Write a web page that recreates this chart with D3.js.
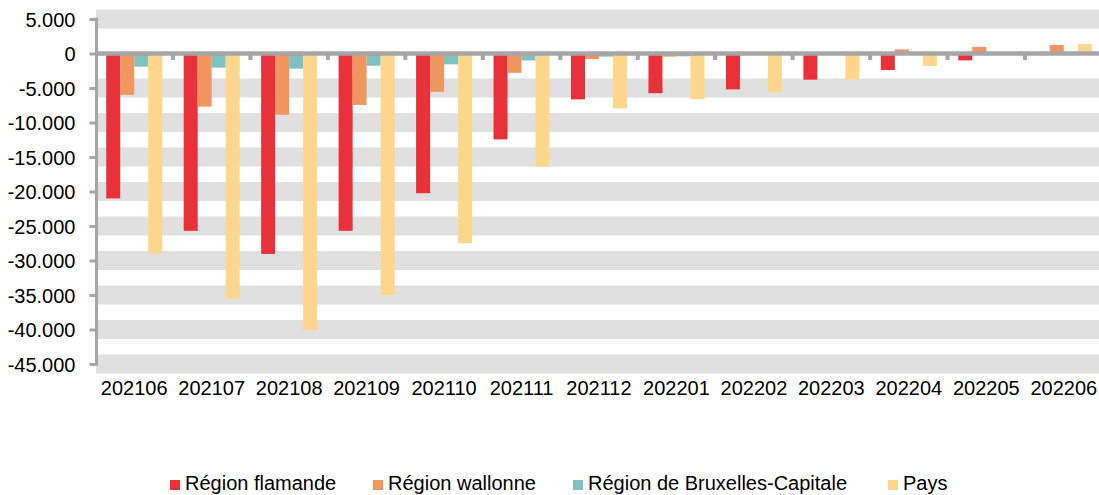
<!DOCTYPE html>
<html>
<head>
<meta charset="utf-8">
<script src="https://cdn.jsdelivr.net/npm/d3@7"></script>
<style>
  html, body { margin: 0; padding: 0; background: #fff; }
  svg { display: block; font-family: "Liberation Sans", Arial, sans-serif; }
</style>
</head>
<body>
<svg id="chart" width="1099" height="495"></svg>
<script>
const categories = ["202106","202107","202108","202109","202110","202111","202112","202201","202202","202203","202204","202205","202206"];
const seriesNames = ["Région flamande","Région wallonne","Région de Bruxelles-Capitale","Pays"];
const seriesColors = ["#E9313A","#F1965F","#7FC0C0","#FED68C"];
const flamande  = [-21000,-25700,-29050,-25700,-20250,-12450,-6650,-5750,-5200,-3800,-2400,-1000,150];
const wallonne  = [-6000,-7700,-8870,-7450,-5550,-2800,-800,-450,-200,-100,600,950,1230];
const bruxelles = [-1900,-2050,-2200,-1770,-1570,-1000,-450,-400,-200,-100,0,0,0];
const pays      = [-29000,-35500,-40100,-35000,-27500,-16400,-7950,-6600,-5600,-3750,-1800,-50,1380];
const yTicks = [5000,0,-5000,-10000,-15000,-20000,-25000,-30000,-35000,-40000,-45000];

const seriesValues = [flamande, wallonne, bruxelles, pays];
const svg = d3.select("#chart");
const W = 1099;

const locale = d3.formatLocale({decimal: ",", thousands: ".", grouping: [3], currency: ["", "€"], minus: "-"});
const fmt = locale.format(",.0f");

const x0 = d3.scaleBand().domain(categories).range([95.5, 1102.5]).paddingInner(0.277).paddingOuter(0.1385);
const x1 = d3.scaleBand().domain(seriesNames).range([0, x0.bandwidth()]).padding(0);
const y = d3.scaleLinear().domain([-45000, 5000]).range([364, 19]);

// bands (thick gridlines)
svg.append("g").selectAll("rect").data(yTicks.filter(t => t !== 0)).join("rect")
  .attr("x", 96).attr("width", W - 96)
  .attr("y", d => y(d) - 9.5).attr("height", 19)
  .attr("fill", "#E0E0E0");

// bars
const groups = svg.append("g").selectAll("g").data(categories).join("g")
  .attr("transform", d => `translate(${x0(d)},0)`);
groups.selectAll("rect").data((c, i) => seriesNames.map((s, j) => ({s, j, v: seriesValues[j][i]}))).join("rect")
  .attr("x", d => x1(d.s)).attr("width", x1.bandwidth())
  .attr("y", d => y(Math.max(0, d.v)))
  .attr("height", d => Math.abs(y(d.v) - y(0)))
  .attr("fill", d => seriesColors[d.j]);

// y axis
const yAxis = svg.append("g").attr("transform", "translate(96.5,0)")
  .call(d3.axisLeft(y).tickValues(yTicks).tickSize(7).tickFormat(fmt).tickPadding(14));
yAxis.select(".domain").attr("stroke", "#A6A6A6").attr("stroke-width", 3)
  .attr("d", `M0,${y(5000)-1.5}V${y(-45000)+1.5}`);
yAxis.selectAll(".tick line").attr("stroke", "#A6A6A6").attr("stroke-width", 3);
yAxis.selectAll(".tick text").attr("font-size", 20).attr("fill", "#000")
  .attr("font-family", "Liberation Sans, Arial, sans-serif").attr("dy", "0.35em");

// x axis line at zero with ticks at category boundaries
const boundaries = categories.slice(1).map(c => x0(c) - x0.step() * x0.paddingInner() / 2);
const xAxisG = svg.append("g");
xAxisG.selectAll("rect").data(boundaries).join("rect")
  .attr("x", d => d - 2).attr("y", y(0)).attr("width", 4).attr("height", 6.5)
  .attr("fill", "#A6A6A6");
xAxisG.append("line").attr("x1", 95).attr("x2", W).attr("y1", y(0)).attr("y2", y(0))
  .attr("stroke", "#A6A6A6").attr("stroke-width", 4.5);

// x labels
svg.append("g").selectAll("text").data(categories).join("text")
  .attr("x", d => x0(d) + x0.bandwidth() / 2).attr("y", 395)
  .attr("text-anchor", "middle").attr("font-size", 20).attr("fill", "#000")
  .text(d => d);

// legend
const legendX = [170, 373, 573, 888];
const leg = svg.append("g").selectAll("g").data(seriesNames).join("g")
  .attr("transform", (d, i) => `translate(${legendX[i]},480)`);
leg.append("rect").attr("width", 10).attr("height", 10).attr("fill", (d, i) => seriesColors[i]);
leg.append("text").attr("x", 15).attr("y", 10).attr("font-size", 20).attr("fill", "#000").text(d => d);
</script>
</body>
</html>
